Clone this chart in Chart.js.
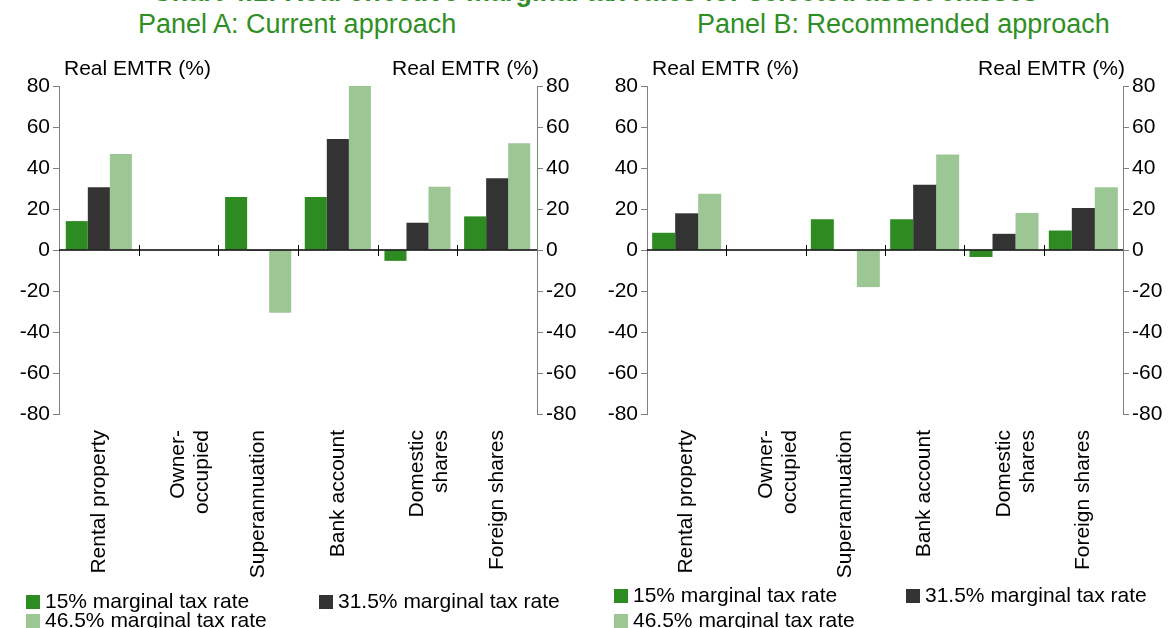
<!DOCTYPE html>
<html>
<head>
<meta charset="utf-8">
<script src="https://cdn.jsdelivr.net/npm/chart.js@4.4.1/dist/chart.umd.min.js"></script>
<style>
  html, body { margin: 0; padding: 0; background: #fff; overflow: hidden; }
  body { width: 1173px; height: 628px; position: relative; font-family: "Liberation Sans", Arial, sans-serif; }
  .title { position: absolute; left: 0; width: 1190px; top: -21px; text-align: center; font-weight: bold; font-size: 27px; line-height: 27px; color: #2f8f24; white-space: nowrap; }
  .panel-title { position: absolute; top: 9px; font-size: 27px; line-height: 30px; color: #2f8f24; white-space: nowrap; }
  .box { position: absolute; top: 60px; height: 540px; }
  .legend-item { position: absolute; font-size: 21px; line-height: 21px; color: #000; white-space: nowrap; }
  .legend-item span { display: inline-block; width: 14px; height: 14px; margin-right: 5px; vertical-align: -1px; }
</style>
</head>
<body>
<div class="title">Chart 4.1: Real effective marginal tax rates for selected asset classes</div>
<div class="panel-title" style="left:138px">Panel A: Current approach</div>
<div class="panel-title" style="left:697px">Panel B: Recommended approach</div>

<div class="box" style="left:0;width:590px"><canvas id="chartA"></canvas></div>
<div class="box" style="left:590px;width:583px"><canvas id="chartB"></canvas></div>

<div class="legend-item" style="left:26px;top:590px"><span style="background:#2e8b22"></span>15% marginal tax rate</div>
<div class="legend-item" style="left:319px;top:590px"><span style="background:#333333"></span>31.5% marginal tax rate</div>
<div class="legend-item" style="left:26px;top:609px"><span style="background:#9cc794"></span>46.5% marginal tax rate</div>
<div class="legend-item" style="left:614px;top:584px"><span style="background:#2e8b22"></span>15% marginal tax rate</div>
<div class="legend-item" style="left:906px;top:584px"><span style="background:#333333"></span>31.5% marginal tax rate</div>
<div class="legend-item" style="left:614px;top:609px"><span style="background:#9cc794"></span>46.5% marginal tax rate</div>

<script>
// asset classes and real EMTRs (%)
const categories = [
    'Rental property',
    ['Owner-', 'occupied'],
    'Superannuation',
    'Bank account',
    ['Domestic', 'shares'],
    'Foreign shares'
];
const seriesNames = ['15% marginal tax rate', '31.5% marginal tax rate', '46.5% marginal tax rate'];
const seriesColors = ['#2e8b22', '#333333', '#9cc794'];

// Panel A: current approach
const currentLow = [14.1, 0, 25.9, 25.9, -5.3, 16.4];
const currentMid = [30.6, 0, -0.5, 54.1, 13.3, 35.0];
const currentHigh = [46.8, 0, -30.6, 80.0, 30.8, 52.1];

// Panel B: recommended approach
const recLow = [8.4, 0, 15.0, 15.0, -3.4, 9.5];
const recMid = [17.9, 0, -0.5, 31.8, 7.9, 20.5];
const recHigh = [27.4, 0, -18.1, 46.6, 18.1, 30.6];

const yTicks = [-80, -60, -40, -20, 0, 20, 40, 60, 80];
const axisTitle = 'Real EMTR (%)';

const FONT = "'Liberation Sans', Arial, sans-serif";
Chart.defaults.font.family = FONT;
Chart.defaults.color = '#000';

// zero line, small ticks on it between categories, axis titles
const extrasPlugin = {
    id: 'extras',
    afterDatasetsDraw(chart) {
        const { ctx, chartArea, scales } = chart;
        const x = scales.x, y = scales.y;
        const zy = y.getPixelForValue(0);
        ctx.save();
        ctx.strokeStyle = '#000';
        ctx.lineWidth = 1.5;
        ctx.beginPath();
        ctx.moveTo(chartArea.left, zy);
        ctx.lineTo(chartArea.right, zy);
        ctx.stroke();
        ctx.lineWidth = 1;
        for (let i = 1; i < categories.length; i++) {
            const bx = Math.round((x.getPixelForValue(i - 1) + x.getPixelForValue(i)) / 2) + 0.5;
            ctx.beginPath();
            ctx.moveTo(bx, zy - 5);
            ctx.lineTo(bx, zy + 6);
            ctx.stroke();
        }
        ctx.fillStyle = '#000';
        ctx.font = '21px ' + FONT;
        ctx.textBaseline = 'middle';
        ctx.textAlign = 'left';
        ctx.fillText(axisTitle, chartArea.left + 5, chartArea.top - 17);
        ctx.textAlign = 'right';
        ctx.fillText(axisTitle, chartArea.right + 2, chartArea.top - 17);
        ctx.restore();
    }
};

function makeChart(id, low, mid, high, leftW, rightW, catPct) {
    const sets = [low, mid, high].map((d, i) => ({
        label: seriesNames[i],
        data: d,
        backgroundColor: seriesColors[i],
        borderWidth: 0,
        barPercentage: 1,
        categoryPercentage: catPct
    }));
    const yAxis = (pos, w) => ({
        position: pos,
        min: -80,
        max: 80,
        afterBuildTicks: s => { s.ticks = yTicks.map(v => ({ value: v })); },
        afterFit: s => { s.width = w; },
        border: { color: '#808080', width: 1 },
        grid: { drawOnChartArea: false, drawTicks: true, tickLength: 6, color: '#808080' },
        ticks: { font: { size: 21 }, padding: 3, color: '#000' }
    });
    return new Chart(document.getElementById(id), {
        type: 'bar',
        data: { labels: categories, datasets: sets },
        options: {
            responsive: true,
            maintainAspectRatio: false,
            animation: false,
            layout: { padding: { top: 26, left: 0, right: 0, bottom: 0 } },
            plugins: { legend: { display: false }, tooltip: { enabled: false } },
            scales: {
                x: {
                    position: 'bottom',
                    afterFit: s => { s.height = 186; },
                    border: { display: false },
                    grid: { display: false },
                    ticks: {
                        minRotation: 90,
                        maxRotation: 90,
                        autoSkip: false,
                        padding: 8,
                        font: { size: 21, lineHeight: 1.15 },
                        color: '#000'
                    }
                },
                y: yAxis('left', leftW),
                y2: yAxis('right', rightW)
            }
        },
        plugins: [extrasPlugin]
    });
}

makeChart('chartA', currentLow, currentMid, currentHigh, 59, 53, 0.83);
makeChart('chartB', recLow, recMid, recHigh, 57, 50, 0.87);
</script>
</body>
</html>
